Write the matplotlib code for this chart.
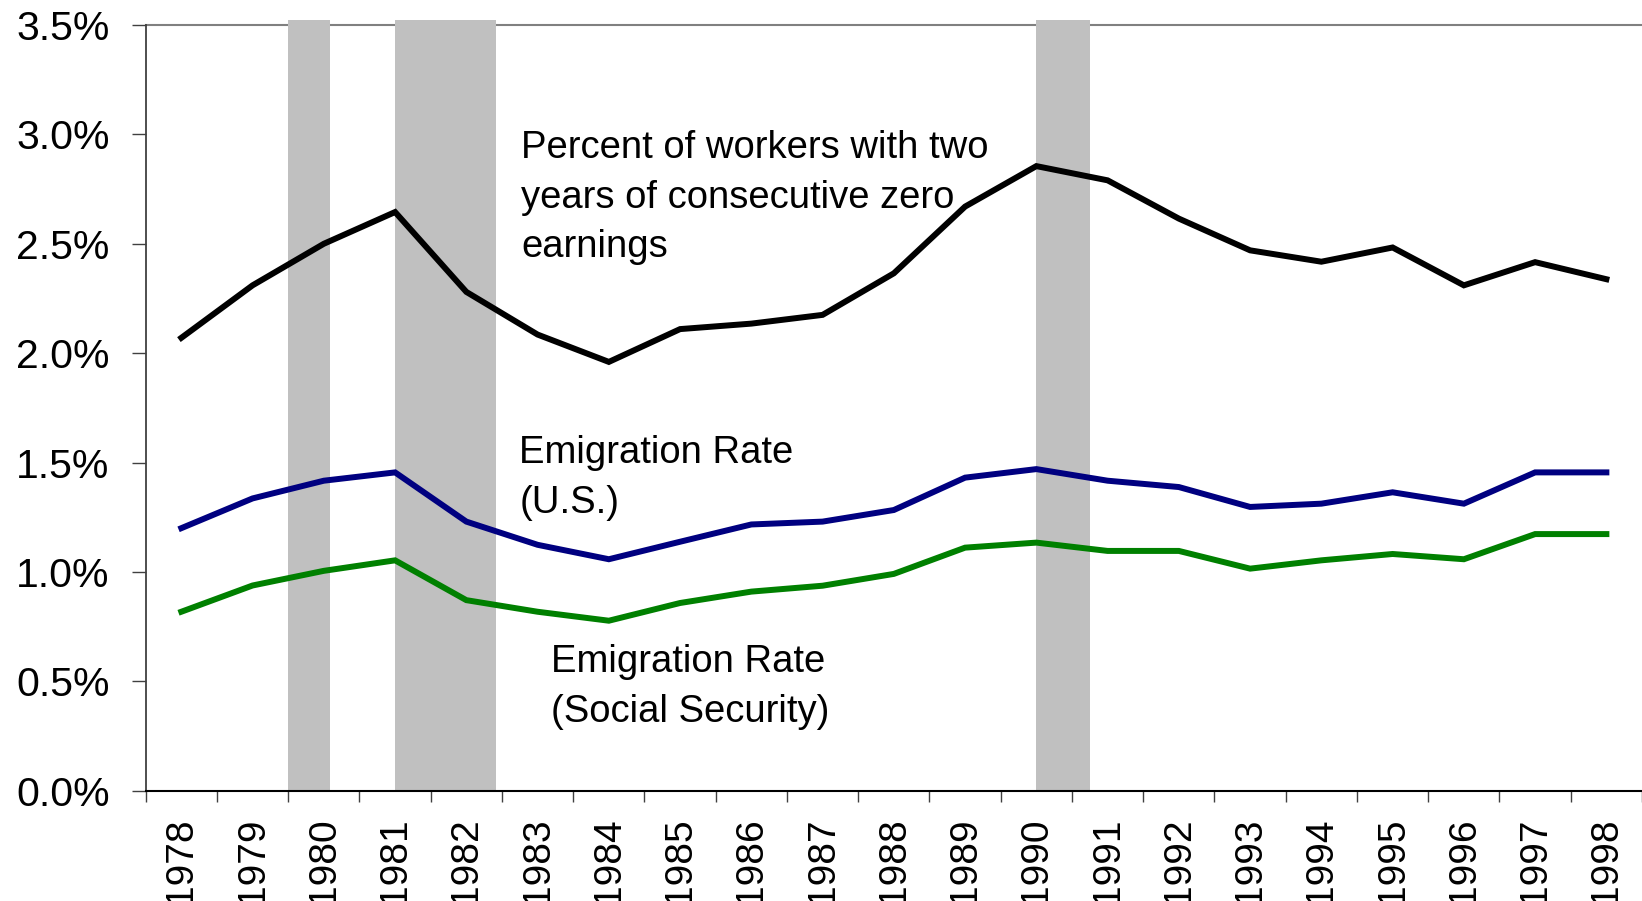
import matplotlib
matplotlib.use("Agg")
import matplotlib.pyplot as plt
import numpy as np

plt.rcParams['font.family'] = ['Liberation Sans', 'DejaVu Sans']

years = list(range(1978, 1999))
zero_earnings = [2.07, 2.31, 2.50, 2.645, 2.28, 2.085, 1.96, 2.11, 2.135, 2.175, 2.365, 2.67,
                 2.855, 2.79, 2.615, 2.47, 2.418, 2.483, 2.31, 2.416, 2.338]
emig_us = [1.20, 1.336, 1.417, 1.455, 1.23, 1.124, 1.058, 1.138, 1.217, 1.23, 1.283, 1.431,
           1.47, 1.417, 1.388, 1.297, 1.312, 1.364, 1.312, 1.455, 1.455]
emig_ss = [0.818, 0.938, 1.005, 1.053, 0.871, 0.818, 0.777, 0.858, 0.91, 0.937, 0.991, 1.111,
           1.134, 1.096, 1.096, 1.015, 1.053, 1.082, 1.058, 1.173, 1.173]
rec_start = [1980.0, 1981.5, 1990.5]
rec_end = [1980.58, 1982.92, 1991.25]
yticks = [0.0, 0.5, 1.0, 1.5, 2.0, 2.5, 3.0, 3.5]

W, H = 1642, 901
fig = plt.figure(figsize=(W / 100, H / 100), dpi=100)
ax = fig.add_axes([145.7 / W, (H - 790.7) / H, (W - 145.7) / W, (790.7 - 25) / H])

x = np.arange(len(years))
ax.set_xlim(-0.5, len(years) - 0.5)
ax.set_ylim(0, 3.5)

# recession bars (extend slightly above the plot top)
for s, e in zip(rec_start, rec_end):
    ax.axvspan(s - years[0] - 0.5, e - years[0] - 0.5, ymin=0, ymax=1.0066,
               color='#C0C0C0', lw=0, zorder=1.5, clip_on=False)

lw = 4.3
ax.plot(x, zero_earnings, color='black', lw=lw, zorder=3, solid_joinstyle='miter')
ax.plot(x, emig_us, color='#000080', lw=lw, zorder=3, solid_joinstyle='miter')
ax.plot(x, emig_ss, color='#008000', lw=lw, zorder=3, solid_joinstyle='miter')

# spines
ax.spines['right'].set_visible(False)
ax.spines['top'].set_color('#808080')
ax.spines['top'].set_linewidth(1.5)
ax.spines['top'].set_zorder(1)
ax.spines['left'].set_color('#404040')
ax.spines['left'].set_linewidth(1.3)
ax.spines['bottom'].set_color('black')
ax.spines['bottom'].set_linewidth(1.5)
ax.spines['bottom'].set_zorder(2.5)

# y axis
ax.set_yticks(yticks)
ax.set_yticklabels([f"{v:.1f}%" for v in yticks])
ax.tick_params(axis='y', direction='out', length=10, width=1.0, color='#404040',
               pad=16, labelsize=29.5, labelcolor='black')

# x axis: labels at centers, tick marks at category boundaries
ax.set_xticks(x)
ax.set_xticklabels([str(y) for y in years], rotation=90, va='top', ha='center')
ax.set_xticks(np.arange(-0.5, len(years)), minor=True)
ax.tick_params(axis='x', which='major', length=0, pad=19, labelsize=28)
ax.tick_params(axis='x', which='minor', direction='out', length=8, width=1.0, color='#404040')

fs = 27.5
def px2data(xp, yp):
    return (xp - 145.7) / 71.2 - 0.5, (790.7 - yp) / 218.8

lines1 = ["Percent of workers with two", "years of consecutive zero", "earnings"]
for i, t in enumerate(lines1):
    xd, yd = px2data(521, 158 + 49.5 * i)
    ax.text(xd, yd, t, fontsize=fs, ha='left', va='baseline', zorder=4)

lines2 = ["Emigration Rate", "(U.S.)"]
for i, t in enumerate(lines2):
    xd, yd = px2data(519, 463.3 + 49.5 * i)
    ax.text(xd, yd, t, fontsize=fs, ha='left', va='baseline', zorder=4)

lines3 = ["Emigration Rate", "(Social Security)"]
for i, t in enumerate(lines3):
    xd, yd = px2data(551, 672.3 + 49.5 * i)
    ax.text(xd, yd, t, fontsize=fs, ha='left', va='baseline', zorder=4)

fig.savefig("out.png", dpi=100)
